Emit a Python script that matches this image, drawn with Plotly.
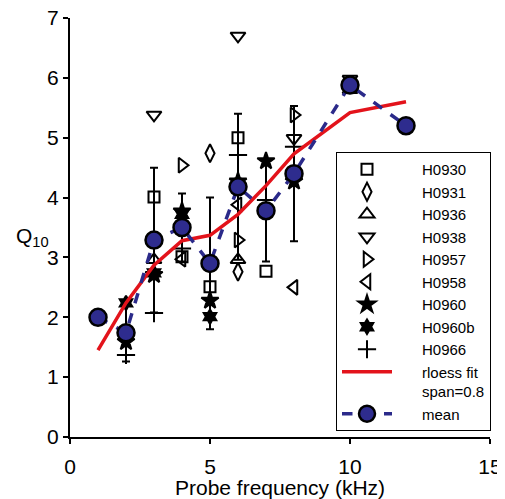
import plotly.graph_objects as go

freq = [1, 2, 3, 4, 5, 6, 7, 8, 10, 12]

H0930 = [None, None, 4.01, 3.01, 2.51, 5.00, 2.77, None, None, None]
H0931 = [None, None, None, None, 4.74, 2.76, None, None, None, None]
H0936 = [None, None, 2.96, None, None, 2.96, None, None, 5.80, None]
H0938 = [None, None, 5.38, None, None, 6.70, None, 4.99, 5.98, None]
H0957 = [None, None, None, 4.54, None, 3.29, None, 5.38, None, None]
H0958 = [None, None, None, 2.97, None, 3.88, None, 2.50, None, None]
H0960 = [None, 1.59, 2.71, 3.77, 2.28, 4.27, 4.61, 4.27, None, None]
H0960b = [None, 2.24, 2.74, 3.72, 2.01, None, None, None, None, None]
H0966 = [None, 1.37, 2.07, 3.15, None, 4.71, 3.96, 4.85, None, None]

rloess = [1.45, 2.24, 2.87, 3.28, 3.37, 3.72, 4.20, 4.73, 5.42, 5.60]
mean_q = [2.00, 1.74, 3.29, 3.50, 2.90, 4.18, 3.78, 4.40, 5.88, 5.20]
sd_q = [None, 0.48, 1.21, 0.57, 1.10, 1.22, 0.85, 1.13, None, None]

x_ticks = [0, 5, 10, 15]
y_ticks = [0, 1, 2, 3, 4, 5, 6, 7]

FONT = "Liberation Sans, Arial, sans-serif"
PAD = "\u00a0" * 6

series = [
    ("H0930", H0930, "square-open", 11, None),
    ("H0931", H0931, "diamond-tall-open", 13, None),
    ("H0936", H0936, "triangle-up-open", 13, None),
    ("H0938", H0938, "triangle-down-open", 13, None),
    ("H0957", H0957, "triangle-right-open", 13, None),
    ("H0958", H0958, "triangle-left-open", 13, None),
    ("H0960", H0960, "star", 13, "black"),
    ("H0960b", H0960b, "hexagram", 11, "black"),
    ("H0966", H0966, "cross-thin-open", 13, None),
]

fig = go.Figure()

# error bars (mean +/- sd)
ex = [f for f, s in zip(freq, sd_q) if s is not None]
ey = [m for m, s in zip(mean_q, sd_q) if s is not None]
es = [s for s in sd_q if s is not None]
fig.add_trace(go.Scatter(
    x=ex, y=ey, mode="markers", showlegend=False, hoverinfo="skip",
    marker=dict(size=1, color="rgba(0,0,0,0)"),
    error_y=dict(type="data", array=es, visible=True, color="black",
                 thickness=2, width=4),
))

for name, vals, sym, size, fill in series:
    xs = [f for f, v in zip(freq, vals) if v is not None]
    ys = [v for v in vals if v is not None]
    mk = dict(symbol=sym, size=size, color=fill if fill else "black",
              line=dict(color="black", width=2))
    fig.add_trace(go.Scatter(x=xs, y=ys, mode="markers", name=PAD + name,
                             marker=mk))

fig.add_trace(go.Scatter(
    x=freq, y=rloess, mode="lines", name=PAD + "rloess fit<br>" + PAD + "span=0.8",
    line=dict(color="#E3131B", width=3.5),
))
fig.add_trace(go.Scatter(
    x=freq, y=mean_q, mode="lines+markers", name=PAD + "mean",
    line=dict(color="#2B2A8A", width=3.5, dash="dash"),
    marker=dict(symbol="circle", size=17, color="#2E2C8E",
                line=dict(color="black", width=2.5)),
))

# page body has an 8px margin, so the figure is sized/offset to compensate
fig.update_layout(
    template="none",
    width=497, height=491,
    margin=dict(l=62, r=15, t=10, b=62),
    paper_bgcolor="white", plot_bgcolor="white",
    font=dict(family=FONT, size=21, color="black"),
    showlegend=True,
    legend=dict(
        x=(336 - 70) / 420, y=(437 - 152) / 419, xanchor="left", yanchor="top",
        bgcolor="white", bordercolor="black", borderwidth=1,
        font=dict(family=FONT, size=15, color="black"),
        itemwidth=50, valign="top",
    ),
    xaxis=dict(
        range=[0, 15], tickvals=x_ticks, ticktext=[str(t) for t in x_ticks],
        showline=True, linecolor="black", linewidth=2, automargin=False,
        ticks="outside", ticklen=5, tickwidth=2, tickcolor="black",
        showgrid=False, zeroline=False, ticklabeloverflow="allow",
        title=dict(text="Probe frequency (kHz)", font=dict(size=21), standoff=1),
        tickfont=dict(size=21), ticklabelstandoff=5,
    ),
    yaxis=dict(
        range=[0, 7], tickvals=y_ticks, ticktext=[str(t) for t in y_ticks],
        showline=True, linecolor="black", linewidth=2, automargin=False,
        ticks="outside", ticklen=5, tickwidth=2, tickcolor="black",
        showgrid=False, zeroline=False, ticklabeloverflow="allow",
        tickfont=dict(size=21),
    ),
    annotations=[dict(
        text="Q<sub>10</sub>", xref="paper", yref="paper",
        x=-0.09, y=(437 - 237) / 419, xanchor="center", yanchor="middle",
        showarrow=False, font=dict(family=FONT, size=21, color="black"),
    )],
)

fig.write_html("out.html")
